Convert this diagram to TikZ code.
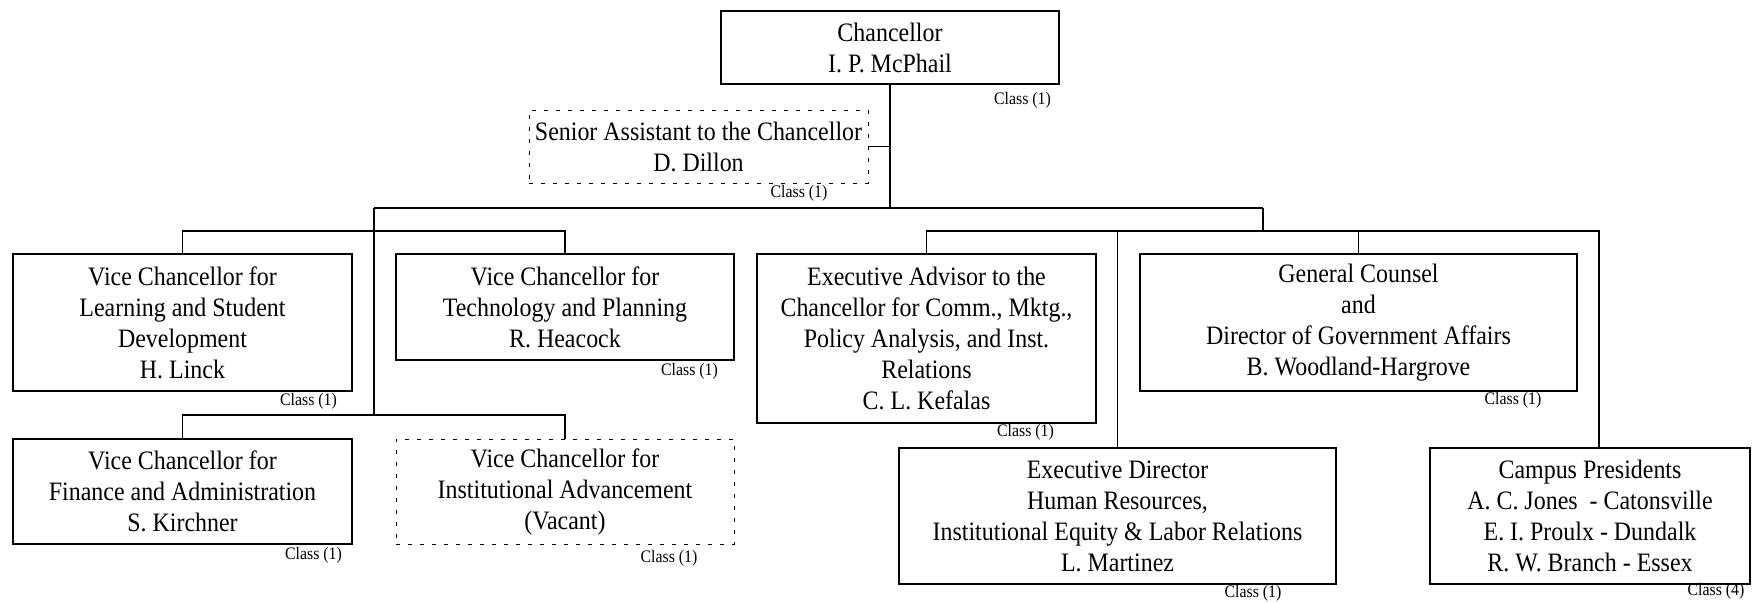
\documentclass[tikz,border=0pt]{standalone}
\usepackage{fontspec}
\setmainfont{Liberation Serif}[FakeStretch=0.9]
\begin{document}
\begin{tikzpicture}[x=0.5pt,y=-0.5pt,
  box/.style={draw,line width=1pt,inner sep=0pt,align=center,font=\fontsize{13.3}{15.5}\selectfont},
  dbox/.style={box,line width=0.5pt,dash pattern=on 2pt off 4pt},
  cls/.style={inner sep=0pt,font=\fontsize{8.8}{10}\selectfont},
  conn/.style={line width=0.9pt},
  trunk/.style={line width=1.3pt}]
\useasboundingbox (0,0) rectangle (1757,602);
% boxes
\node[box,minimum width=169pt,minimum height=36.5pt] (chan) at (890,47.5) {Chancellor\\I. P. McPhail};
\node[dbox,minimum width=169.5pt,minimum height=36.5pt] (sen) at (698.5,146.5) {Senior Assistant to the Chancellor\\D. Dillon};
\node[box,minimum width=169.5pt,minimum height=68.5pt] (lsd) at (182.5,322.5) {Vice Chancellor for\\Learning and Student\\Development\\H. Linck};
\node[box,minimum width=169pt,minimum height=53pt] (tech) at (565,307) {Vice Chancellor for\\Technology and Planning\\R. Heacock};
\node[box,minimum width=169.5pt,minimum height=52.5pt] (fin) at (182.5,491.5) {Vice Chancellor for\\Finance and Administration\\S. Kirchner};
\node[dbox,minimum width=169pt,minimum height=52.5pt] (vac) at (565,491.5) {Vice Chancellor for\\Institutional Advancement\\(Vacant)};
\node[box,minimum width=169.5pt,minimum height=84.5pt] (adv) at (926.5,338.5) {Executive Advisor to the\\Chancellor for Comm., Mktg.,\\Policy Analysis, and Inst.\\Relations\\C. L. Kefalas};
\node[box,minimum width=218.5pt,minimum height=68.5pt] (gc) at (1358.5,322.5) {General Counsel\\and\\Director of Government Affairs\\B. Woodland-Hargrove};
\node[box,minimum width=218.5pt,minimum height=68pt] (ed) at (1117.5,516) {Executive Director\\Human Resources,\\Institutional Equity \& Labor Relations\\L. Martinez};
\node[box,minimum width=160pt,minimum height=68pt] (cp) at (1590,516) {Campus Presidents\\A. C. Jones\ \ - Catonsville\\E. I. Proulx - Dundalk\\R. W. Branch - Essex};
% class labels
\node[cls] (c1) at (1022.5,100) {Class (1)};
\node[cls] (c2) at (799,193) {Class (1)};
\node[cls] (c3) at (308.5,401) {Class (1)};
\node[cls] (c4) at (689.5,371) {Class (1)};
\node[cls] (c5) at (313.5,555) {Class (1)};
\node[cls] (c6) at (669,558) {Class (1)};
\node[cls] (c7) at (1025.5,432) {Class (1)};
\node[cls] (c8) at (1513,400) {Class (1)};
\node[cls] (c9) at (1253,593) {Class (1)};
\node[cls] (c10) at (1716,591) {Class (4)};
% coordinates
\coordinate (hub) at (890,208);
\coordinate (lj) at (374,208);
\coordinate (rj) at (1263,208);
\coordinate (lbar) at (374,231);
\coordinate (lbar2) at (374,415);
\coordinate (rbar) at (1263,231);
\coordinate (cpin) at (1599,448);
% connectors
\draw[trunk] (chan.south) -- (hub);
\draw[conn] (sen.east) -- (sen.east -| hub);
\draw[conn] (lj) -- (rj);
\draw[conn] (lj) -- (lbar2);
\draw[conn] (lsd.north) -- (lsd.north |- lbar) -| (tech.north);
\draw[conn] (fin.north) -- (fin.north |- lbar2) -| (vac.north);
\draw[conn] (rj) -- (rbar);
\draw[conn] (adv.north) -- (adv.north |- rbar) -| (cpin);
\draw[conn] (gc.north) -- (gc.north |- rbar);
\draw[conn] (ed.north) -- (ed.north |- rbar);
\end{tikzpicture}
\end{document}
